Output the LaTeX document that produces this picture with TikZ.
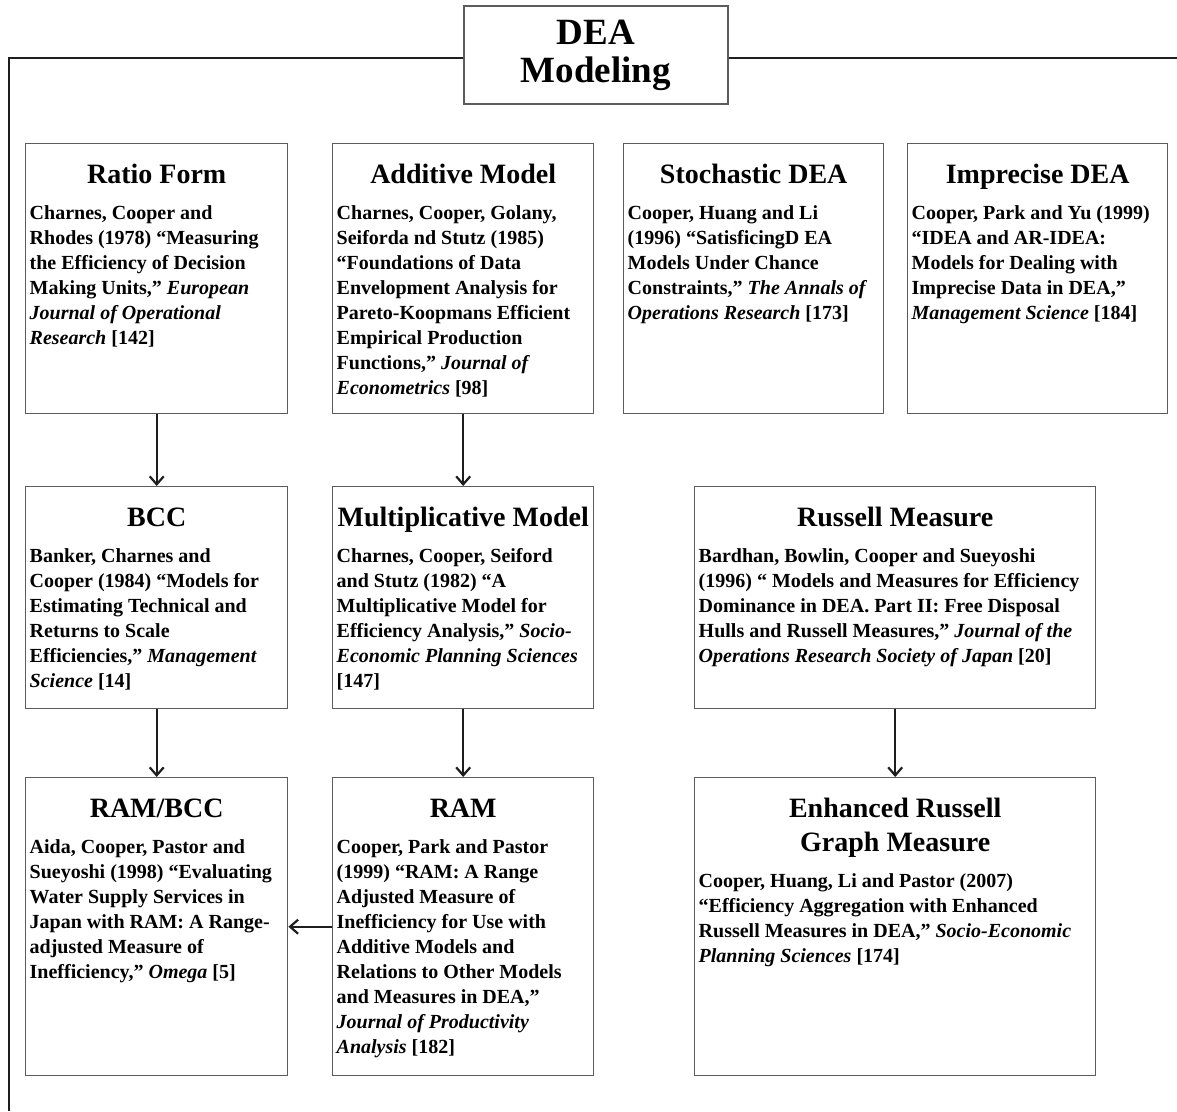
\documentclass[tikz,border=0pt]{standalone}
\usepackage{fontspec}
\setmainfont{Liberation Serif}
\usepackage{xcolor}
\usepackage{tikz}
\usetikzlibrary{arrows.meta,positioning}
\definecolor{boxgray}{HTML}{5C5C5C}
\definecolor{framedark}{HTML}{1E1E1E}
\newcommand{\modeltitle}[1]{{\centering\fontsize{28}{34}\selectfont\rule{0pt}{36pt}#1\par}\vspace{11pt}}
\newcommand{\modelentry}[4]{\parbox[t][#2][t]{#1}{\bfseries\modeltitle{#3}\fontsize{20}{25}\selectfont\raggedright #4\par}}
\tikzset{
  modelbox/.style={draw=boxgray,line width=1.4pt,inner sep=4pt,anchor=north west,fill=white},
  titlebox/.style={draw=boxgray,line width=1.4pt,minimum width=264pt,minimum height=98pt,align=center,fill=white,
    font=\bfseries\fontsize{37}{38}\selectfont},
  frameline/.style={framedark,line width=2.4pt},
  linkarrow/.style={framedark,line width=2.2pt,-{Straight Barb[length=8pt,width=14pt]}}
}

\begin{document}
\begin{tikzpicture}[x=1pt,y=-1pt]
  \useasboundingbox (0,0) rectangle (1177,1111);
  % outer frame and heading
  \node[titlebox] (dea) at (596,55) {DEA\\Modeling};
  \draw[frameline] (dea.west |- 0,58) -- (9,58) -- (9,1111);
  \draw[frameline] (dea.east |- 0,58) -- (1177,58);
  % first row
  \node[modelbox] (ratio) at (25,143) {\modelentry{254pt}{262pt}{Ratio Form}{Charnes, Cooper and\\Rhodes (1978) “Measuring\\the Efficiency of Decision\\Making Units,” \textit{European\\Journal of Operational\\Research} [142]}};
  \node[modelbox] (additive) at (332,143) {\modelentry{253pt}{262pt}{Additive Model}{Charnes, Cooper, Golany,\\Seiforda nd Stutz (1985)\\“Foundations of Data\\Envelopment Analysis for\\Pareto-Koopmans Efficient\\Empirical Production\\Functions,” \textit{Journal of\\Econometrics} [98]}};
  \node[modelbox] (stochastic) at (623,143) {\modelentry{252pt}{262pt}{Stochastic DEA}{Cooper, Huang and Li\\(1996) “SatisficingD EA\\Models Under Chance\\Constraints,” \textit{The Annals of\\Operations Research} [173]}};
  \node[modelbox] (imprecise) at (907,143) {\modelentry{252pt}{262pt}{Imprecise DEA}{Cooper, Park and Yu (1999)\\“IDEA and AR-IDEA:\\Models for Dealing with\\Imprecise Data in DEA,”\\\textit{Management Science} [184]}};
  % second row
  \node[modelbox] (bcc) at (25,486) {\modelentry{254pt}{214pt}{BCC}{Banker, Charnes and\\Cooper (1984) “Models for\\Estimating Technical and\\Returns to Scale\\Efficiencies,” \textit{Management\\Science} [14]}};
  \node[modelbox] (mult) at (332,486) {\modelentry{253pt}{214pt}{Multiplicative Model}{Charnes, Cooper, Seiford\\and Stutz (1982) “A\\Multiplicative Model for\\Efficiency Analysis,” \textit{Socio-\\Economic Planning Sciences}\\{}[147]}};
  \node[modelbox] (russell) at (694,486) {\modelentry{393pt}{214pt}{Russell Measure}{Bardhan, Bowlin, Cooper and Sueyoshi\\(1996) “ Models and Measures for Efficiency\\Dominance in DEA. Part II: Free Disposal\\Hulls and Russell Measures,” \textit{Journal of the\\Operations Research Society of Japan} [20]}};
  % third row
  \node[modelbox] (rambcc) at (25,777) {\modelentry{254pt}{290pt}{RAM/BCC}{Aida, Cooper, Pastor and\\Sueyoshi (1998) “Evaluating\\Water Supply Services in\\Japan with RAM: A Range-\\adjusted Measure of\\Inefficiency,” \textit{Omega} [5]}};
  \node[modelbox] (ram) at (332,777) {\modelentry{253pt}{290pt}{RAM}{Cooper, Park and Pastor\\(1999) “RAM: A Range\\Adjusted Measure of\\Inefficiency for Use with\\Additive Models and\\Relations to Other Models\\and Measures in DEA,”\\\textit{Journal of Productivity\\Analysis} [182]}};
  \node[modelbox] (enhanced) at (694,777) {\modelentry{393pt}{290pt}{Enhanced Russell\\Graph Measure}{Cooper, Huang, Li and Pastor (2007)\\“Efficiency Aggregation with Enhanced\\Russell Measures in DEA,” \textit{Socio-Economic\\Planning Sciences} [174]}};
  % links
  \draw[linkarrow] (ratio) -- (bcc);
  \draw[linkarrow] (additive) -- (mult);
  \draw[linkarrow] (bcc) -- (rambcc);
  \draw[linkarrow] (mult) -- (ram);
  \draw[linkarrow] (russell) -- (enhanced);
  \draw[linkarrow] (ram) -- (rambcc);
\end{tikzpicture}
\end{document}
